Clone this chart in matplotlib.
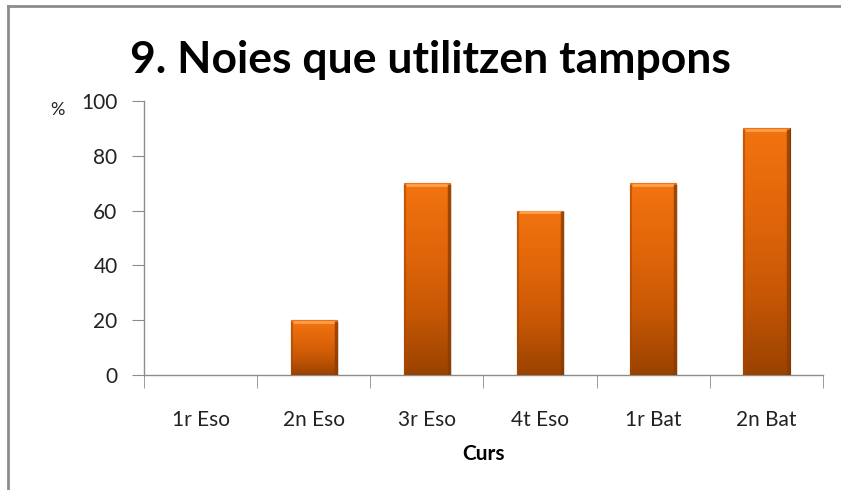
import numpy as np
from matplotlib import pyplot as plt
from matplotlib.colors import LinearSegmentedColormap
from matplotlib.lines import Line2D

# Data
cursos = ['1r Eso', '2n Eso', '3r Eso', '4t Eso', '1r Bat', '2n Bat']
percent = [0, 20, 70, 60, 70, 90]

plt.rcParams['font.family'] = ['Lato', 'DejaVu Sans']

fig = plt.figure(figsize=(8.41, 4.90), dpi=100)
ax = fig.add_axes([144 / 841, 1 - 375 / 490, (823 - 144) / 841, (375 - 101) / 490])

x = np.arange(len(cursos))
bars = ax.bar(x, percent, width=0.41, color='#e86a0a', edgecolor='#7a3502',
              linewidth=0.8, zorder=3)

# vertical gradient inside each bar (orange top -> dark brown bottom)
cmap = LinearSegmentedColormap.from_list('orng', ['#9a4200', '#c85805', '#e2670a', '#f27310'])
grad = np.linspace(0, 1, 256).reshape(-1, 1)
for b in bars:
    h = b.get_height()
    if h <= 0:
        b.set_visible(False)
        continue
    x0 = b.get_x()
    w = b.get_width()
    im = ax.imshow(grad, cmap=cmap, origin='lower', aspect='auto',
                   extent=[x0, x0 + w, 0, h], zorder=3.5)
    im.set_clip_path(b)
    # bevel: light top cap, darker sides
    ax.plot([x0 + 0.02, x0 + w - 0.02], [h - 0.6, h - 0.6],
            color='#ffa04a', lw=2, zorder=4, solid_capstyle='butt')
    ax.plot([x0 + w - 0.012, x0 + w - 0.012], [0.3, h - 1], color='#8a3c02',
            lw=2.5, zorder=4, alpha=0.8)
    ax.plot([x0 + 0.01, x0 + 0.01], [0.3, h - 1], color='#a84800',
            lw=1.5, zorder=4, alpha=0.6)

ax.set_xlim(-0.5, len(cursos) - 0.5)
ax.set_ylim(0, 100)
ax.set_yticks(np.arange(0, 101, 20))
ax.set_xticks(x)
ax.set_xticklabels(cursos)
ax.set_xticks(np.arange(-0.5, len(cursos)), minor=True)
ax.tick_params(axis='x', which='major', length=0, pad=25, labelsize=15, labelcolor='#222222')
ax.tick_params(axis='x', which='minor', length=9, color='#8c8c8c')
ax.tick_params(axis='y', length=9, color='#8c8c8c', labelsize=15, pad=10, labelcolor='#222222')

for s in ['top', 'right']:
    ax.spines[s].set_visible(False)
for s in ['left', 'bottom']:
    ax.spines[s].set_color('#8c8c8c')
    ax.spines[s].set_linewidth(1)

ax.set_xlabel('Curs', fontsize=15, fontweight='bold', labelpad=10)
fig.text(57 / 841, 1 - 110 / 490, '%', fontsize=13, ha='center', va='center', color='#222222')

fig.text(430 / 841, 1 - 60 / 490, '9. Noies que utilitzen tampons', fontsize=32,
         fontweight='bold', ha='center', va='center')

# chart area border (top and left visible)
fig.add_artist(Line2D([8 / 841, 1], [1 - 6 / 490, 1 - 6 / 490], color='#8c8c8c', lw=2,
                      transform=fig.transFigure))
fig.add_artist(Line2D([8 / 841, 8 / 841], [0, 1 - 6 / 490], color='#8c8c8c', lw=2,
                      transform=fig.transFigure))

plt.savefig('out.png', dpi=100)
